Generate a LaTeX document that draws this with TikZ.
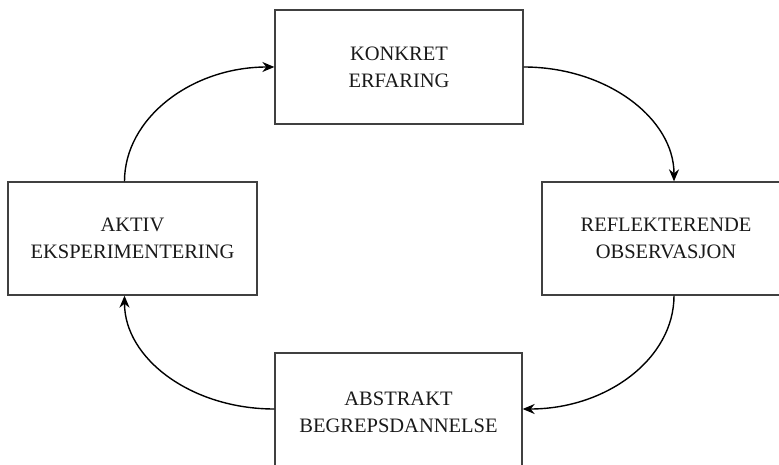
\documentclass[tikz,border=0pt]{standalone}
\usepackage{fontspec}
\setmainfont{Liberation Serif}
\usetikzlibrary{shapes,arrows.meta,positioning,calc}

\begin{document}
\begin{tikzpicture}[x=1pt,y=1pt]
  \tikzstyle{fase}=[rectangle, draw=black!75, line width=1.3pt, inner sep=0pt, align=center, text=black!90, font=\fontsize{20.5}{27}\selectfont]
  \tikzstyle{syklus}=[line width=1.4pt, -{Stealth[length=12pt,width=10pt]}]

  \useasboundingbox (0,0) rectangle (779,464);
  \clip (0,0) rectangle (779,464);

  \node[fase, minimum width=248pt, minimum height=114pt] (konkret) at (399,397) {KONKRET\\ERFARING};
  \node[fase, minimum width=248pt, minimum height=113pt] (refleks) at (666,225.5) {REFLEKTERENDE\\OBSERVASJON};
  \node[fase, minimum width=247pt, minimum height=118pt] (abstrakt) at (398.5,52) {ABSTRAKT\\BEGREPSDANNELSE};
  \node[fase, minimum width=249pt, minimum height=113pt] (aktiv) at (132.5,225.5) {AKTIV\\EKSPERIMENTERING};

  % punkter der pilene treffer boksene
  \coordinate (refleksinn) at ([xshift=8pt]refleks.north);
  \coordinate (refleksut) at ([xshift=8pt]refleks.south);
  \coordinate (aktivinn) at ([xshift=-8pt]aktiv.south);
  \coordinate (aktivut) at ([xshift=-8pt]aktiv.north);
  \coordinate (abstraktinn) at ([yshift=3pt]abstrakt.east);
  \coordinate (abstraktut) at ([yshift=3pt]abstrakt.west);

  % syklusen
  \draw[syklus] (konkret.east) .. controls +(83,0) and +(0,63) .. (refleksinn);
  \draw[syklus] (refleksut) .. controls +(0,-63) and +(84,0) .. (abstraktinn);
  \draw[syklus] (abstraktut) .. controls +(-83,0) and +(0,-63) .. (aktivinn);
  \draw[syklus] (aktivut) .. controls +(0,63) and +(-83,0) .. (konkret.west);
\end{tikzpicture}
\end{document}
